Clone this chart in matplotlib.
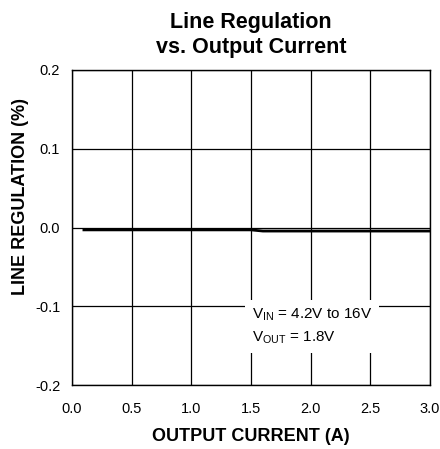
import matplotlib.pyplot as plt

plt.rcParams['font.family'] = ['Liberation Sans', 'DejaVu Sans']

current = [0.1, 0.5, 1.0, 1.5, 1.6, 2.0, 2.5, 3.0]
regulation = [-0.003, -0.003, -0.003, -0.003, -0.0045, -0.0045, -0.0045, -0.0045]

x_ticks = [0.0, 0.5, 1.0, 1.5, 2.0, 2.5, 3.0]
y_ticks = [-0.2, -0.1, 0.0, 0.1, 0.2]

fig = plt.figure(figsize=(4.4, 4.49), dpi=100)
ax = fig.add_axes([0.1636, 0.1425, 0.8136, 0.7016])

ax.plot(current, regulation, color='black', linewidth=2.0, zorder=3)

ax.set_xlim(0, 3)
ax.set_ylim(-0.2, 0.2)
ax.set_xticks(x_ticks)
ax.set_yticks(y_ticks)
ax.set_xticklabels([f'{v:.1f}' for v in x_ticks], fontsize=10.5)
ax.set_yticklabels([f'{v:.1f}' for v in y_ticks], fontsize=10.5)
ax.tick_params(axis='x', length=0, pad=12)
ax.tick_params(axis='y', length=0, pad=8.5)
ax.grid(True, color='black', linewidth=0.9)
for s in ax.spines.values():
    s.set_linewidth(1.0)

ax.set_xlabel('OUTPUT CURRENT (A)', fontsize=13, fontweight='bold', labelpad=9)
ax.set_ylabel('LINE REGULATION (%)', fontsize=13, fontweight='bold')
ax.yaxis.set_label_coords(-0.12, 0.6)
ax.set_title('Line Regulation\nvs. Output Current', fontsize=15.5,
             fontweight='bold', pad=12, linespacing=1.3)

ax.text(1.51, -0.126, '$\\mathregular{V_{IN}}$ = 4.2V to 16V\n$\\mathregular{V_{OUT}}$ = 1.8V',
        fontsize=11, va='center', ha='left', linespacing=1.55, zorder=4,
        bbox=dict(facecolor='white', edgecolor='none', pad=5))

fig.savefig('out.png', dpi=100, facecolor='white')
